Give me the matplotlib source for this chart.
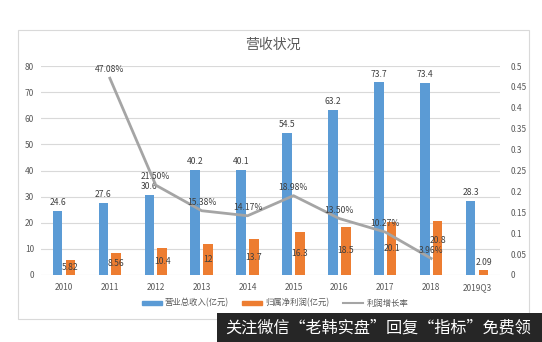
import matplotlib
matplotlib.use("Agg")
import matplotlib.pyplot as plt
from matplotlib.patches import Rectangle
from matplotlib.lines import Line2D

plt.rcParams['font.family'] = ['Noto Sans CJK SC', 'DejaVu Sans']

categories = ['2010', '2011', '2012', '2013', '2014', '2015', '2016', '2017', '2018', '2019Q3']
revenue = [24.6, 27.6, 30.6, 40.2, 40.1, 54.5, 63.2, 73.7, 73.4, 28.3]
revenue_labels = ['24.6', '27.6', '30.6', '40.2', '40.1', '54.5', '63.2', '73.7', '73.4', '28.3']
profit = [5.82, 8.56, 10.4, 12, 13.7, 16.3, 18.5, 20.1, 20.8, 2.09]
profit_labels = ['5.82', '8.56', '10.4', '12', '13.7', '16.3', '18.5', '20.1', '20.8', '2.09']
growth_x = [1, 2, 3, 4, 5, 6, 7, 8]
growth = [0.4708, 0.2150, 0.1538, 0.1417, 0.1898, 0.1350, 0.1027, 0.0396]
growth_labels = ['47.08%', '21.50%', '15.38%', '14.17%', '18.98%', '13.50%', '10.27%', '3.96%']
left_ticks = [0, 10, 20, 30, 40, 50, 60, 70, 80]
right_ticks = [0, 0.05, 0.1, 0.15, 0.2, 0.25, 0.3, 0.35, 0.4, 0.45, 0.5]
right_tick_labels = ['0', '0.05', '0.1', '0.15', '0.2', '0.25', '0.3', '0.35', '0.4', '0.45', '0.5']
title = '营收状况'
legend_names = ['营业总收入(亿元)', '归属净利润(亿元)', '利润增长率']
watermark = '关注微信“老韩实盘”回复“指标”免费领'

BLUE = '#5B9BD5'
ORANGE = '#ED7D31'
GRAY = '#A5A5A5'
TXT = '#595959'
GRID = '#D9D9D9'

W, H = 542, 342
fig = plt.figure(figsize=(W / 100, H / 100), dpi=100)
fig.patch.set_facecolor('white')

def fx(px):
    return px / W

def fy(py):
    return 1 - py / H

# chart frame
fig.patches.append(Rectangle((fx(18), fy(319)), fx(529) - fx(18), fy(30) - fy(319),
                             transform=fig.transFigure, fill=False, edgecolor=GRID, linewidth=0.8))

ax = fig.add_axes([fx(41), fy(275), fx(500) - fx(41), fy(66) - fy(275)])
ax2 = ax.twinx()

x = list(range(len(categories)))
bw = 0.21
off = 0.14
xb = [i - off for i in x]
xo = [i + off for i in x]
ax.bar(xb, revenue, width=bw, color=BLUE, zorder=2)
ax.bar(xo, profit, width=bw, color=ORANGE, zorder=2)

ax.set_xlim(-0.5, len(categories) - 0.5)
ax.set_ylim(0, 80)
ax.set_yticks(left_ticks)
ax.set_xticks(x)
ax.set_xticklabels(categories)
ax.grid(axis='y', color=GRID, linewidth=0.8, zorder=0)
ax.set_axisbelow(True)
for s in ax.spines.values():
    s.set_visible(False)
for s in ax2.spines.values():
    s.set_visible(False)
ax.tick_params(axis='both', length=0, labelsize=6, labelcolor=TXT, pad=5)
ax.tick_params(axis='x', pad=6)

for xi, v, lab in zip(xb, revenue, revenue_labels):
    ax.annotate(lab, (xi, v), xytext=(0, 6), textcoords='offset points',
                ha='center', va='center', fontsize=6.2, color='#404040')
lift_idx = categories.index('2018')
for i, (xi, v, lab) in enumerate(zip(xo, profit, profit_labels)):
    if v < 4:
        ax.annotate(lab, (xi, v), xytext=(0, 1.5), textcoords='offset points',
                    ha='center', va='bottom', fontsize=6.2, color='#404040')
    else:
        dy = 5 if i == lift_idx else 0
        ax.annotate(lab, (xi, v / 2), xytext=(0, dy), textcoords='offset points',
                    ha='center', va='center', fontsize=6.2, color='#404040')

ax2.set_ylim(0, 0.5)
ax2.set_yticks(right_ticks)
ax2.set_yticklabels(right_tick_labels)
ax2.tick_params(axis='y', length=0, labelsize=6, labelcolor=TXT, pad=8)
ax2.plot(growth_x, growth, color=GRAY, linewidth=2, zorder=3)
for xi, v, lab in zip(growth_x, growth, growth_labels):
    ax2.annotate(lab, (xi, v), xytext=(0, 6), textcoords='offset points',
                 ha='center', va='center', fontsize=6.2, color='#404040')

fig.text(fx(273), fy(45), title, ha='center', va='center', fontsize=10, color=TXT)

handles = [Rectangle((0, 0), 1, 1, color=BLUE), Rectangle((0, 0), 1, 1, color=ORANGE),
           Line2D([0], [0], color=GRAY, linewidth=1.5)]
fig.legend(handles, legend_names, loc='center', bbox_to_anchor=(fx(275), fy(303)),
           ncol=3, frameon=False, fontsize=6, labelcolor=TXT, handlelength=2.4,
           handleheight=0.4, handletextpad=0.4, columnspacing=1.6)

# watermark box
fig.patches.append(Rectangle((fx(217), 0), 1 - fx(217), fy(313), transform=fig.transFigure,
                             facecolor='#262626', edgecolor='none', zorder=5))
fig.text(fx(225), fy(328), watermark, ha='left', va='center', fontsize=11.6,
         color='white', zorder=6)

fig.savefig('out.png', dpi=100, facecolor='white')
